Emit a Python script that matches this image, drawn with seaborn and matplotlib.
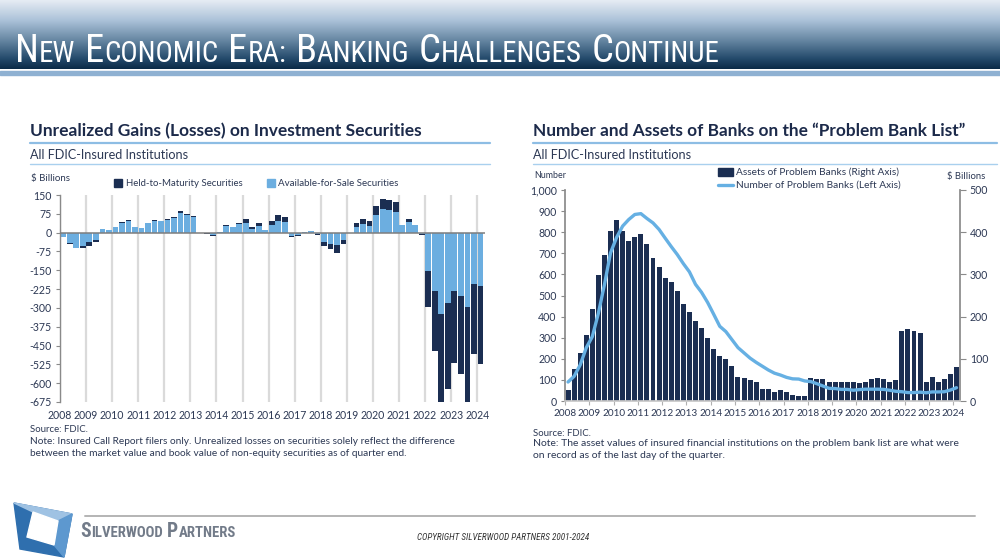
import numpy as np
import pandas as pd
import matplotlib
matplotlib.use("Agg")
import matplotlib.pyplot as plt
import seaborn as sns
from matplotlib import font_manager
from matplotlib.colors import LinearSegmentedColormap
from matplotlib.patches import Polygon, Rectangle
from matplotlib.lines import Line2D

# ---------------- data ----------------
quarters = [f"{y}Q{q}" for y in range(2008, 2025) for q in (1, 2, 3, 4)][:65]
year_labels = [str(y) for y in range(2008, 2025)]

# Unrealized gains (losses), $ billions
afs_values = [-18, -42, -60, -53,   -39, -28, 15, 11,   21, 38, 47, 22,   18, 37, 47, 45,
              52, 59, 78, 69,       61, -1, -2, -9,     2, 28, 22, 33,    40, 15, 25, 9,
              32, 46, 41, -13,      -8, 1, 5, -6,       -36, -46, -51, -29,  -2, 24, 33, 28,
              71, 93, 89, 84,       31, 42, 29, -6,     -153, -231, -325, -279,
              -233, -252, -296, -205,  -213]
htm_values = [-1, -2, -3, -7,      -15, -9, 0, 0,      3, 3, 4, 2,       2, 2, 4, 3,
              4, 5, 7, 7,           6, -2, -2, -6,      1, 3, 2, 5,       13, 6, 12, 3,
              16, 23, 22, -6,       -4, 0, 1, -3,       -19, -19, -31, -17,  -1, 13, 23, 17,
              36, 40, 40, 40,       0, 13, 2, -3,       -143, -242, -358, -346,
              -287, -312, -387, -278,  -310]

# Problem bank list
assets_values = [25, 76, 113, 156,   218, 298, 345, 402,   430, 402, 378, 388,   396, 371, 338, 318,
                 291, 281, 260, 231,  211, 190, 172, 150,   124, 107, 99, 84,    58, 54, 49, 44,
                 28, 28, 22, 25,      21, 15, 13, 12,       54, 52, 51, 46,      45, 46, 46, 44,
                 43, 46, 51, 54,      52, 44, 49, 167,      170, 167, 162, 45,   56, 44, 51, 65,
                 80]
problem_banks = [90, 117, 171, 252,   305, 416, 552, 702,   775, 829, 860, 884,   888, 865, 844, 813,
                 772, 732, 694, 651,  612, 553, 515, 467,   411, 354, 329, 291,   253, 228, 203, 183,
                 165, 147, 132, 123,  112, 105, 104, 95,    92, 82, 71, 60,      59, 55, 55, 51,
                 54, 56, 56, 56,      55, 51, 46, 44,       40, 40, 42, 39,      43, 43, 44, 52,
                 63]

left_yticks = [150, 75, 0, -75, -150, -225, -300, -375, -450, -525, -600, -675]
left_ylabels = ["150", "75", "0", "-75", "-150", "-225", "-300", "-375", "-450", "-525", "-600", "-675"]
num_ticks = [0, 100, 200, 300, 400, 500, 600, 700, 800, 900, 1000]
num_labels = ["0", "100", "200", "300", "400", "500", "600", "700", "800", "900", "1,000"]
bil_ticks = [0, 100, 200, 300, 400, 500]
bil_labels = ["0", "100", "200", "300", "400", "500"]

# ---------------- style ----------------
sns.set_theme(style="white")
plt.rcParams["font.family"] = ["Lato", "DejaVu Sans"]
plt.rcParams["axes.unicode_minus"] = False

# choose a narrow font for the slide header / footer, if one is installed
_fonts = font_manager.fontManager.ttflist
_names = {f.name for f in _fonts}
NARROW = dict(family=["Liberation Sans", "DejaVu Sans"])
for cand in ["Liberation Sans Narrow", "Roboto Condensed", "Open Sans Condensed", "Noto Sans Condensed"]:
    if cand in _names:
        NARROW = dict(family=[cand, "DejaVu Sans"])
        break
else:
    if any(f.name == "DejaVu Sans" and f.stretch in ("condensed", 700, "semi-condensed") for f in _fonts):
        NARROW = dict(family=["DejaVu Sans"], fontstretch="condensed")

NAVY = "#1b2e52"
LIGHT = "#6caee0"
LINEC = "#66b0e3"
TXT = "#2c3854"
TITLE = "#1c2a4a"
GRID = "#dadada"
SPINE = "#8a8a8a"
RULE = "#8dbde4"

W, H = 1000, 560
fig = plt.figure(figsize=(10, 5.6), dpi=100)
fig.patch.set_facecolor("white")
r = fig.canvas.get_renderer()


def fx(x):
    return x / W


def fy(y):
    return 1 - y / H


def ftext(x, y, s, w=None, size=9, **kw):
    kw.setdefault("va", "center")
    kw.setdefault("ha", "left")
    t = fig.text(fx(x), fy(y), s, fontsize=size, **kw)
    if w:
        cur = t.get_window_extent(renderer=r).width
        t.set_fontsize(size * w / cur)
    return t


def small_caps(x, y, words, big, small, color, target_w, **kw):
    def build(scale):
        arts = []
        cx = x
        for i, wd in enumerate(words):
            t1 = fig.text(fx(cx), fy(y), wd[0], fontsize=big * scale, color=color,
                          va="baseline", ha="left", **kw)
            cx += t1.get_window_extent(renderer=r).width
            arts.append(t1)
            if len(wd) > 1:
                t2 = fig.text(fx(cx), fy(y), wd[1:], fontsize=small * scale, color=color,
                              va="baseline", ha="left", **kw)
                cx += t2.get_window_extent(renderer=r).width
                arts.append(t2)
            if i < len(words) - 1:
                cx += 0.25 * big * scale * 100 / 72
        return arts, cx - x
    arts, wtot = build(1.0)
    for a in arts:
        a.remove()
    build(target_w / wtot)


# ---------------- header ----------------
hax = fig.add_axes([0, fy(69), 1, 69 / H])
cmap = LinearSegmentedColormap.from_list(
    "hdr", [(0, "#e6ecf4"), (0.3, "#aac1d8"), (0.6, "#62839f"), (0.85, "#244a6b"), (1.0, "#0b2a47")])
hax.imshow(np.linspace(0, 1, 256).reshape(-1, 1), aspect="auto", cmap=cmap,
           extent=[0, 1, 0, 1], origin="upper")
hax.axis("off")
fig.patches.append(Rectangle((0, fy(74.5)), 1, 4 / H, transform=fig.transFigure,
                             color="#8fb1d2", zorder=1))
small_caps(15, 62, ["NEW", "ECONOMIC", "ERA:", "BANKING", "CHALLENGES", "CONTINUE"],
           22, 16.5, "white", 702, **NARROW)

# ---------------- left chart ----------------
pos = [int(q[:4]) + (int(q[-1]) - 0.5) / 4 for q in quarters]
left_df = pd.DataFrame({"pos": pos, "afs": afs_values, "htm": htm_values})
left_df["total"] = left_df["afs"] + left_df["htm"]

ax1 = fig.add_axes([fx(60), fy(402), (485 - 60) / W, (402 - 195) / H])
sns.barplot(data=left_df, x="pos", y="total", native_scale=True, color=NAVY, saturation=1,
            width=0.88, errorbar=None, ax=ax1, zorder=2, linewidth=0)
sns.barplot(data=left_df, x="pos", y="afs", native_scale=True, color=LIGHT, saturation=1,
            width=0.88, errorbar=None, ax=ax1, zorder=2.5, linewidth=0)
ax1.axhline(0, color="#7d7d7d", lw=1.1, zorder=4)
ax1.set_xlim(2008, 2024.3)
ax1.set_ylim(-675, 150)
ax1.set_xticks(range(2008, 2025))
ax1.set_xticklabels(year_labels)
ax1.set_yticks(left_yticks)
ax1.set_yticklabels(left_ylabels)
ax1.set_xlabel("")
ax1.set_ylabel("")
ax1.grid(axis="x", color=GRID, lw=1.6)
ax1.grid(axis="y", visible=False)
ax1.set_axisbelow(True)
for s in ["top", "right", "bottom"]:
    ax1.spines[s].set_visible(False)
ax1.spines["left"].set_color(SPINE)
ax1.spines["left"].set_linewidth(1)
ax1.tick_params(axis="y", left=True, length=3, width=0.8, color=SPINE, pad=3,
                labelsize=7.6, labelcolor=TXT)
ax1.tick_params(axis="x", bottom=False, length=0, pad=6, labelsize=7.6, labelcolor=TXT)
# small year ticks hanging from the zero line
zero_frac = (0 - (-675)) / (150 - (-675))
sec = ax1.secondary_xaxis(zero_frac)
sec.set_xticks(range(2008, 2025))
sec.tick_params(axis="x", length=3, width=0.8, color="#9a9a9a", labelbottom=False, labeltop=False)
sec.spines["bottom"].set_visible(False)
sec.spines["top"].set_visible(False)

# titles left
ftext(30, 131, "Unrealized Gains (Losses) on Investment Securities", w=391, size=11,
      color=TITLE, fontweight="bold")
fig.add_artist(Line2D([fx(30), fx(490)], [fy(143), fy(143)], color=RULE, lw=1.6))
ftext(30, 155, "All FDIC-Insured Institutions", w=158, size=9, color=TXT)
fig.add_artist(Line2D([fx(30), fx(490)], [fy(164), fy(164)], color="#a9d0ee", lw=1.0))
ftext(31, 179, "$ Billions", w=39, size=7.5, color=TXT)
fig.patches.append(Rectangle((fx(114), fy(187)), 8 / W, 8 / H, transform=fig.transFigure, color=NAVY))
ftext(126, 183, "Held-to-Maturity Securities", w=117, size=8, color=TXT)
fig.patches.append(Rectangle((fx(267), fy(187)), 8 / W, 8 / H, transform=fig.transFigure, color=LIGHT))
ftext(278, 183, "Available-for-Sale Securities", w=122, size=8, color=TXT)

ftext(30, 430, "Source: FDIC.", w=58, size=8, color=TXT)
tn = ftext(30, 442, "Note: Insured Call Report filers only. Unrealized losses on securities solely reflect the difference",
           w=425, size=8, color=TXT)
ftext(30, 454, "between the market value and book value of non-equity securities as of quarter end.",
      size=tn.get_fontsize(), color=TXT)

# ---------------- right chart ----------------
right_df = pd.DataFrame({"pos": pos, "assets": assets_values, "banks": problem_banks})
ax2 = fig.add_axes([fx(565), fy(401), (960 - 565) / W, (401 - 190) / H])
axr = ax2.twinx()
sns.barplot(data=right_df, x="pos", y="assets", native_scale=True, color=NAVY, saturation=1,
            width=0.82, errorbar=None, ax=axr, zorder=2, linewidth=0)
sns.lineplot(data=right_df, x="pos", y="banks", color=LINEC, lw=2.4, ax=ax2, zorder=5)
ax2.set_zorder(axr.get_zorder() + 1)
ax2.patch.set_visible(False)
for a in (ax2, axr):
    a.set_xlim(2008, 2024.27)
    a.set_xlabel("")
    a.set_ylabel("")
ax2.set_ylim(0, 1000)
axr.set_ylim(0, 500)
ax2.set_xticks(range(2008, 2025))
ax2.set_xticklabels(year_labels)
ax2.set_yticks(num_ticks)
ax2.set_yticklabels(num_labels)
axr.set_yticks(bil_ticks)
axr.set_yticklabels(bil_labels)
axr.grid(axis="x", color=GRID, lw=1.6)
axr.grid(axis="y", visible=False)
ax2.grid(False)
axr.set_axisbelow(True)
for s in ["top", "right"]:
    ax2.spines[s].set_visible(False)
for s in ["top", "left", "bottom"]:
    axr.spines[s].set_visible(False)
ax2.spines["left"].set_color(SPINE)
ax2.spines["bottom"].set_color("#c8c8c8")
axr.spines["right"].set_color(SPINE)
ax2.tick_params(axis="y", left=True, length=3, width=0.8, color=SPINE, pad=3,
                labelsize=7.6, labelcolor=TXT)
ax2.tick_params(axis="x", bottom=True, length=3, width=0.8, color="#b0b0b0", pad=3,
                labelsize=7.2, labelcolor=TXT)
axr.tick_params(axis="y", right=True, length=4, width=0.8, color=SPINE, pad=3,
                labelsize=7.6, labelcolor=TXT)
axr.tick_params(axis="x", bottom=False, labelbottom=False)

ftext(533, 131, "Number and Assets of Banks on the \u201cProblem Bank List\u201d", w=432, size=11,
      color=TITLE, fontweight="bold")
fig.add_artist(Line2D([fx(533), fx(997)], [fy(143), fy(143)], color=RULE, lw=1.6))
ftext(533, 155, "All FDIC-Insured Institutions", w=159, size=9, color=TXT)
fig.add_artist(Line2D([fx(533), fx(997)], [fy(164), fy(164)], color="#a9d0ee", lw=1.0))
ftext(534, 176, "Number", w=32, size=7.5, color=TXT)
ftext(985, 176, "$ Billions", w=38, size=7.5, color=TXT, ha="right")
fig.patches.append(Rectangle((fx(718), fy(176)), 15 / W, 8 / H, transform=fig.transFigure, color=NAVY))
ftext(736, 172, "Assets of Problem Banks (Right Axis)", w=162, size=8, color=TXT)
fig.add_artist(Line2D([fx(718), fx(733)], [fy(185), fy(185)], color=LINEC, lw=2.4))
ftext(736, 185, "Number of Problem Banks (Left Axis)", w=164, size=8, color=TXT)

ftext(533, 433, "Source: FDIC.", w=58, size=8, color=TXT)
tn2 = ftext(533, 444, "Note: The asset values of insured financial institutions on the problem bank list are what were",
            w=429, size=8, color=TXT)
ftext(533, 455, "on record as of the last day of the quarter.", size=tn2.get_fontsize(), color=TXT)

# ---------------- footer ----------------
fig.add_artist(Line2D([fx(85), fx(975)], [fy(516), fy(516)], color="#b4b4b4", lw=1.4))
logo_outer = [(14, 503), (72, 514), (64, 557), (20, 549)]
fig.patches.append(Polygon([(fx(a), fy(b)) for a, b in logo_outer], closed=True,
                           transform=fig.transFigure, color="#2f6fae"))
logo_light = [(14, 503), (72, 514), (58, 521), (33, 512)]
fig.patches.append(Polygon([(fx(a), fy(b)) for a, b in logo_light], closed=True,
                           transform=fig.transFigure, color="#9fc2e3"))
logo_mid = [(72, 514), (64, 557), (54, 545), (58, 521)]
fig.patches.append(Polygon([(fx(a), fy(b)) for a, b in logo_mid], closed=True,
                           transform=fig.transFigure, color="#5d98cf"))
logo_inner = [(33, 512), (58, 521), (54, 545), (27, 537)]
fig.patches.append(Polygon([(fx(a), fy(b)) for a, b in logo_inner], closed=True,
                           transform=fig.transFigure, color="white"))
small_caps(80, 537, ["SILVERWOOD", "PARTNERS"], 13, 9.8, "#727b89", 155,
           fontweight="bold", **NARROW)
ftext(417, 538, "COPYRIGHT SILVERWOOD PARTNERS 2001-2024", w=173, size=6, color="#333333",
      fontstyle="italic", **NARROW)

fig.savefig("out.png", dpi=100, facecolor="white")
